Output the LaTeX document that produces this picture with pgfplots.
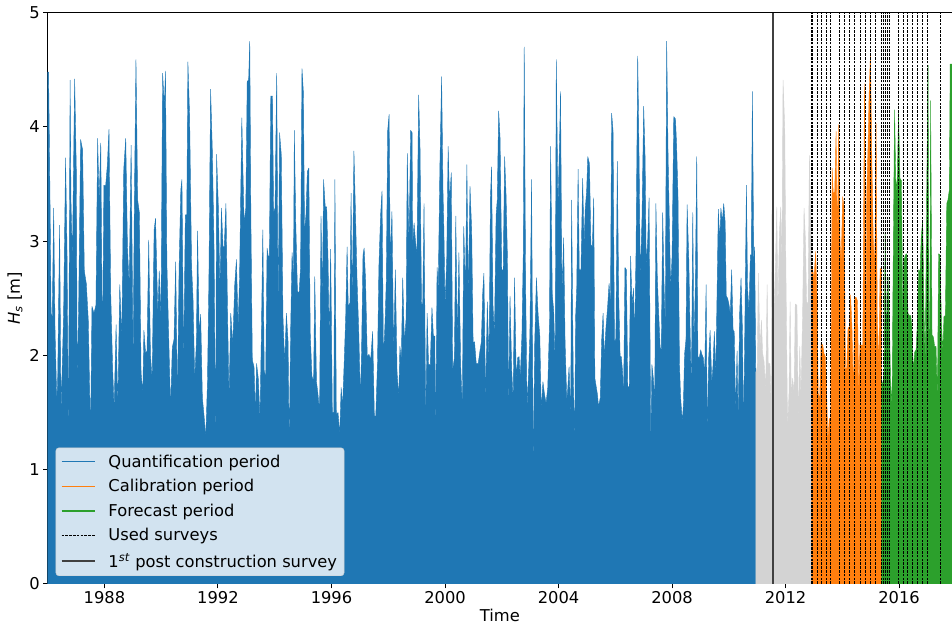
\documentclass[border=0pt]{standalone}
\usepackage{fontspec}
\setmainfont{DejaVu Sans}
\usepackage{pgfplots}
\usepackage{pgfplotstable}
\pgfplotsset{compat=1.18}
\definecolor{c1}{HTML}{1F77B4}
\definecolor{c2}{HTML}{FF7F0E}
\definecolor{c3}{HTML}{2CA02C}
\definecolor{cg}{HTML}{D3D3D3}
\newcommand{\fs}{\fontsize{16.3bp}{19.6bp}\selectfont}

\pgfplotstableread{
t h
1986.00 4.48
1986.03 4.48
1986.06 3.86
1986.09 3.15
1986.12 2.37
1986.16 2.34
1986.21 3.29
1986.26 2.20
1986.32 1.61
1986.35 1.76
1986.42 3.14
1986.47 1.51
1986.56 2.36
1986.63 3.73
1986.68 2.93
1986.73 1.28
1986.79 4.41
1986.82 3.35
1986.87 2.84
1986.95 4.42
1987.01 3.60
1987.04 1.76
1987.09 2.42
1987.16 3.89
1987.23 3.80
1987.29 2.74
1987.36 2.63
1987.43 2.31
1987.48 1.67
1987.51 1.32
1987.56 2.43
1987.63 2.37
1987.70 2.44
1987.76 3.90
1987.81 3.35
1987.87 3.86
1987.93 2.02
1987.98 3.49
1988.04 3.48
1988.10 3.66
1988.16 3.98
1988.22 2.55
1988.29 1.87
1988.34 1.54
1988.41 2.27
1988.47 1.54
1988.54 2.62
1988.61 2.15
1988.68 3.63
1988.75 3.90
1988.81 2.95
1988.87 2.62
1988.94 3.84
1989.01 1.96
1989.05 3.25
1989.11 4.59
1989.17 3.36
1989.23 3.25
1989.29 1.85
1989.35 1.67
1989.39 2.22
1989.45 2.02
1989.50 2.04
1989.56 3.01
1989.62 2.01
1989.68 1.79
1989.75 3.10
1989.80 3.20
1989.88 2.36
1989.93 2.74
1989.99 2.31
1990.05 4.47
1990.11 4.18
1990.15 4.49
1990.20 2.80
1990.26 2.20
1990.33 1.53
1990.39 2.07
1990.45 2.14
1990.51 2.82
1990.57 1.58
1990.63 2.77
1990.69 3.45
1990.73 3.54
1990.79 1.93
1990.85 3.23
1990.90 3.23
1990.94 4.57
1991.00 4.10
1991.07 2.78
1991.12 2.50
1991.18 1.79
1991.24 2.12
1991.28 3.09
1991.34 2.18
1991.39 2.36
1991.45 1.63
1991.51 1.47
1991.57 1.28
1991.63 1.77
1991.68 2.66
1991.74 4.33
1991.80 3.80
1991.86 2.97
1991.92 1.20
1991.95 3.76
1992.01 3.33
1992.07 2.58
1992.12 3.29
1992.18 2.95
1992.22 2.95
1992.28 3.33
1992.34 2.33
1992.39 1.63
1992.45 2.37
1992.52 2.09
1992.59 2.62
1992.65 2.84
1992.71 2.25
1992.76 2.68
1992.84 4.08
1992.88 3.61
1992.92 3.16
1992.98 3.29
1993.03 4.40
1993.08 4.41
1993.12 4.75
1993.16 3.19
1993.21 1.96
1993.27 1.90
1993.32 1.48
1993.36 1.93
1993.42 1.80
1993.48 1.45
1993.53 2.20
1993.58 3.10
1993.63 1.87
1993.68 1.80
1993.73 2.94
1993.77 2.87
1993.81 2.87
1993.86 4.27
1993.92 4.27
1993.96 3.25
1994.01 3.29
1994.07 4.47
1994.12 2.34
1994.17 3.95
1994.23 3.76
1994.29 2.34
1994.35 1.93
1994.41 2.37
1994.47 2.12
1994.51 1.20
1994.56 2.22
1994.61 2.90
1994.66 2.69
1994.69 3.97
1994.74 3.17
1994.80 2.56
1994.86 2.55
1994.91 2.77
1994.96 4.51
1995.01 4.30
1995.05 3.09
1995.10 3.23
1995.15 3.61
1995.20 3.64
1995.25 2.20
1995.31 1.82
1995.37 1.77
1995.41 2.69
1995.47 1.77
1995.52 1.67
1995.58 1.50
1995.63 3.22
1995.68 2.52
1995.72 3.54
1995.78 3.30
1995.83 3.30
1995.88 2.82
1995.92 2.12
1995.97 2.93
1996.03 1.50
1996.08 1.50
1996.12 3.54
1996.17 1.48
1996.23 1.50
1996.29 1.31
1996.34 1.72
1996.39 1.55
1996.45 1.96
1996.50 2.34
1996.55 2.95
1996.59 2.43
1996.65 2.46
1996.69 3.42
1996.73 2.42
1996.79 3.79
1996.85 3.20
1996.90 2.66
1996.96 2.21
1997.02 1.61
1997.06 2.05
1997.11 2.88
1997.15 2.94
1997.20 2.66
1997.26 1.99
1997.32 2.01
1997.38 1.96
1997.45 2.21
1997.51 1.47
1997.56 1.47
1997.62 1.93
1997.67 2.78
1997.73 3.23
1997.78 3.44
1997.83 1.96
1997.89 2.31
1997.93 2.65
1997.98 3.97
1998.03 4.11
1998.07 2.81
1998.13 3.26
1998.19 2.01
1998.25 2.75
1998.31 1.85
1998.37 1.64
1998.41 2.08
1998.46 1.96
1998.51 2.68
1998.57 2.11
1998.63 2.33
1998.67 3.77
1998.73 2.97
1998.79 3.97
1998.84 3.95
1998.86 2.97
1998.91 3.16
1998.95 3.03
1999.01 2.87
1999.07 4.28
1999.12 3.81
1999.17 2.47
1999.21 2.40
1999.26 3.33
1999.32 1.38
1999.37 2.37
1999.42 1.92
1999.48 1.92
1999.54 2.42
1999.59 2.17
1999.64 2.17
1999.67 1.32
1999.72 2.77
1999.76 2.58
1999.82 3.67
1999.88 4.44
1999.93 3.42
1999.96 3.10
2000.00 2.44
2000.06 2.85
2000.11 3.83
2000.16 3.35
2000.22 3.60
2000.27 1.87
2000.33 1.98
2000.38 3.22
2000.43 2.12
2000.49 2.90
2000.55 1.92
2000.61 1.55
2000.66 3.13
2000.72 2.56
2000.77 3.67
2000.82 2.52
2000.88 3.48
2000.94 3.09
2000.99 2.11
2001.04 2.12
2001.10 1.93
2001.17 1.93
2001.23 2.04
2001.28 2.12
2001.33 2.56
2001.37 2.72
2001.43 1.61
2001.49 2.47
2001.55 1.95
2001.60 3.38
2001.64 3.65
2001.69 2.44
2001.74 2.18
2001.80 3.23
2001.84 3.36
2001.89 4.14
2001.94 3.90
2002.00 2.75
2002.05 2.75
2002.10 3.74
2002.15 3.41
2002.20 2.85
2002.24 1.54
2002.29 2.52
2002.35 1.87
2002.40 1.61
2002.45 2.68
2002.51 1.79
2002.56 1.98
2002.61 1.99
2002.65 1.80
2002.71 2.18
2002.76 2.94
2002.79 4.70
2002.84 2.63
2002.89 1.55
2002.94 1.82
2002.99 2.18
2003.05 3.54
2003.11 1.00
2003.16 2.11
2003.22 2.68
2003.28 2.36
2003.34 2.17
2003.39 1.53
2003.45 1.77
2003.50 1.67
2003.56 1.58
2003.62 1.72
2003.68 2.27
2003.72 3.83
2003.78 2.53
2003.83 2.39
2003.88 1.92
2003.92 4.59
2003.98 3.29
2004.04 3.93
2004.07 4.31
2004.12 2.55
2004.18 3.03
2004.23 2.12
2004.29 1.61
2004.32 1.69
2004.37 1.90
2004.43 1.47
2004.46 3.36
2004.52 1.80
2004.57 1.26
2004.60 2.33
2004.64 2.58
2004.69 3.63
2004.73 2.75
2004.79 2.75
2004.85 3.55
2004.90 2.98
2004.94 3.28
2004.99 3.44
2005.03 3.74
2005.09 3.68
2005.14 2.97
2005.19 2.95
2005.24 3.38
2005.28 1.80
2005.37 1.66
2005.41 1.55
2005.47 1.63
2005.52 2.14
2005.57 2.37
2005.61 1.98
2005.67 2.24
2005.73 2.43
2005.78 2.63
2005.83 2.47
2005.87 4.12
2005.92 3.97
2005.97 2.11
2006.02 2.15
2006.07 3.70
2006.12 2.52
2006.17 1.99
2006.21 1.99
2006.26 1.85
2006.29 1.58
2006.34 2.77
2006.39 2.75
2006.44 1.73
2006.49 1.72
2006.54 2.87
2006.59 2.44
2006.64 2.59
2006.68 2.15
2006.73 2.91
2006.79 4.62
2006.84 3.68
2006.88 2.68
2006.94 3.20
2007.00 4.18
2007.05 3.73
2007.09 2.78
2007.14 3.00
2007.19 3.38
2007.25 1.20
2007.29 1.92
2007.34 1.80
2007.39 1.61
2007.43 3.33
2007.48 2.69
2007.53 2.36
2007.58 2.07
2007.62 2.05
2007.67 3.25
2007.72 2.59
2007.76 2.27
2007.81 4.75
2007.86 3.74
2007.90 3.23
2007.95 2.58
2008.00 2.87
2008.06 4.09
2008.12 4.07
2008.16 3.84
2008.21 3.38
2008.26 1.93
2008.30 1.64
2008.36 1.42
2008.40 1.57
2008.44 2.01
2008.49 2.14
2008.53 3.32
2008.59 2.84
2008.63 2.28
2008.68 1.70
2008.73 3.25
2008.77 2.08
2008.82 2.63
2008.87 3.74
2008.91 1.99
2008.96 1.98
2009.01 2.05
2009.05 2.01
2009.10 1.98
2009.15 1.83
2009.20 2.62
2009.24 1.31
2009.29 1.98
2009.34 2.22
2009.40 1.76
2009.44 1.90
2009.49 2.21
2009.54 1.82
2009.58 2.46
2009.63 3.28
2009.68 3.00
2009.72 3.29
2009.77 3.17
2009.82 3.33
2009.87 3.17
2009.91 2.52
2009.96 2.50
2010.01 2.44
2010.05 2.36
2010.10 2.75
2010.15 2.22
2010.19 2.21
2010.24 1.51
2010.29 2.04
2010.33 1.42
2010.38 2.36
2010.43 2.68
2010.48 2.22
2010.52 1.32
2010.57 2.39
2010.62 3.49
2010.66 2.59
2010.71 2.39
2010.76 2.88
2010.79 2.88
2010.83 4.31
2010.88 2.81
2010.91 2.95
2010.95 1.85
}\quant

\pgfplotstableread{
t h
2010.95 1.85
2010.96 1.86
2011.00 1.90
2011.04 2.72
2011.10 2.08
2011.15 2.31
2011.19 2.02
2011.24 1.95
2011.30 1.70
2011.35 2.62
2011.39 1.93
2011.45 1.93
2011.49 1.55
2011.52 3.27
2011.59 2.38
2011.64 2.76
2011.69 3.30
2011.73 2.38
2011.78 3.07
2011.83 3.30
2011.87 2.76
2011.91 4.41
2011.97 4.00
2012.01 2.78
2012.07 1.36
2012.12 1.67
2012.16 2.47
2012.20 1.65
2012.25 1.80
2012.30 1.67
2012.34 2.45
2012.40 2.44
2012.45 1.42
2012.50 2.08
2012.54 1.64
2012.60 2.37
2012.65 3.29
2012.70 3.01
2012.74 2.47
2012.79 2.45
2012.84 3.75
2012.88 3.29
2012.92 2.78
}\gap

\pgfplotstableread{
t h
2012.92 2.78
2012.94 2.78
2013.00 2.67
2013.06 2.91
2013.11 2.48
2013.15 1.67
2013.20 1.62
2013.25 2.11
2013.31 2.09
2013.35 2.02
2013.40 1.99
2013.45 1.64
2013.49 1.26
2013.54 1.45
2013.59 1.43
2013.64 3.64
2013.68 3.42
2013.73 3.43
2013.78 3.96
2013.82 2.97
2013.87 4.02
2013.92 2.98
2013.96 2.83
2014.01 3.39
2014.06 3.30
2014.11 1.89
2014.15 1.87
2014.20 2.24
2014.25 2.25
2014.29 2.53
2014.34 2.24
2014.39 1.64
2014.43 2.51
2014.48 2.51
2014.53 2.48
2014.58 1.67
2014.62 2.09
2014.67 2.09
2014.72 2.09
2014.78 4.38
2014.83 2.08
2014.86 3.42
2014.90 3.78
2014.94 4.26
2014.99 4.64
2015.04 3.71
2015.09 3.01
2015.14 2.76
2015.19 4.03
2015.23 2.35
2015.28 1.89
2015.33 2.76
2015.38 2.76
}\calib

\pgfplotstableread{
t h
2015.38 1.80
2015.42 1.73
2015.47 1.84
2015.51 3.08
2015.56 2.15
2015.61 2.69
2015.66 2.29
2015.70 1.75
2015.75 1.57
2015.80 3.07
2015.84 4.15
2015.89 3.42
2015.94 3.58
2015.98 4.13
2016.03 3.55
2016.08 3.53
2016.13 2.34
2016.17 2.83
2016.22 2.88
2016.27 2.89
2016.31 2.37
2016.36 2.35
2016.41 2.35
2016.45 2.25
2016.50 1.87
2016.55 2.03
2016.60 2.05
2016.64 2.27
2016.69 2.75
2016.74 2.73
2016.78 3.04
2016.83 3.18
2016.88 2.37
2016.92 1.93
2016.97 3.37
2017.02 4.54
2017.07 1.23
2017.11 4.23
2017.16 2.18
2017.21 2.16
2017.25 2.08
2017.30 2.08
2017.35 1.61
2017.39 2.89
2017.44 2.88
2017.49 2.31
2017.54 2.02
2017.58 2.34
2017.63 2.35
2017.68 3.33
2017.72 3.36
2017.77 3.45
2017.80 4.55
2017.87 4.55
}\fore

\begin{document}
\begin{tikzpicture}[font=\fs]
\begin{axis}[
  scale only axis, width=904.3bp, height=571.3bp,
  xmin=1986, xmax=2017.864, ymin=0, ymax=5,
  enlargelimits=false,
  axis x line=box, axis y line=left,
  axis line style={-, line width=1bp, black},
  xtick={1988,1992,1996,2000,2004,2008,2012,2016},
  xticklabels={1988,1992,1996,2000,2004,2008,2012,2016},
  ytick={0,1,2,3,4,5}, yticklabels={0,1,2,3,4,5},
  xtick pos=bottom, ytick pos=left,
  tick align=outside, major tick length=4.4bp,
  tick style={line width=1bp, black},
  /pgf/number format/assume math mode=true,
  tick label style={font=\fs},
  xticklabel style={yshift=1bp},
  xlabel={Time}, ylabel={\textit{H}\textsubscript{\textit{s}} [m]},
  label style={font=\fs},
  xlabel style={inner sep=0pt, yshift=-2.2bp},
  legend style={at={(0,0)}, anchor=south west, xshift=8bp, yshift=8bp,
    draw=black!20, fill=white, fill opacity=0.8, text opacity=1,
    rounded corners=3bp, font=\fs, row sep=6.7bp, inner xsep=5bp, inner ysep=5bp},
  legend cell align=left,
  legend image code/.code={\draw[#1] (0bp,0bp) -- (33bp,0bp); \path (44bp,0bp);},
]
\addplot[forget plot, draw=c1, fill=c1, line width=0.4bp, line join=round] table[x=t, y=h] {\quant} \closedcycle;
\addplot[forget plot, draw=cg, fill=cg, line width=0.4bp, line join=round] table[x=t, y=h] {\gap} \closedcycle;
\addplot[forget plot, draw=c2, fill=c2, line width=0.4bp, line join=round] table[x=t, y=h] {\calib} \closedcycle;
\addplot[forget plot, draw=c3, fill=c3, line width=0.4bp, line join=round] table[x=t, y=h] {\fore} \closedcycle;
\addplot[forget plot, ycomb, mark=none, black, line width=0.8bp, dash pattern=on 2.5bp off 1.3bp] coordinates {
(2012.896,5) (2012.941,5) (2013.132,5) (2013.273,5) (2013.449,5) (2013.590,5)
(2013.882,5) (2014.069,5) (2014.245,5) (2014.411,5) (2014.622,5) (2014.798,5)
(2014.975,5) (2015.151,5) (2015.387,5) (2015.443,5) (2015.514,5) (2015.584,5)
(2015.655,5) (2015.972,5) (2016.148,5) (2016.303,5) (2016.479,5) (2016.641,5)
(2016.817,5) (2017.008,5) (2017.441,5)};
\addplot[forget plot, black!75, line width=1.6bp, mark=none] coordinates {(2011.546,0) (2011.546,5)};
\addlegendimage{c1, line width=1.3bp}
\addlegendentry{Quantification period}
\addlegendimage{c2, line width=1.3bp}
\addlegendentry{Calibration period}
\addlegendimage{c3, line width=1.3bp}
\addlegendentry{Forecast period}
\addlegendimage{black, line width=0.8bp, dash pattern=on 2.5bp off 1.3bp}
\addlegendentry{Used surveys}
\addlegendimage{black!75, line width=1.6bp}
\addlegendentry{1\textsuperscript{\textit{st}} post construction survey}
\end{axis}
\pgfresetboundingbox
\path[use as bounding box] ([xshift=-47.7bp, yshift=-41bp]current axis.south west) rectangle ([yshift=12.7bp]current axis.north east);
\end{tikzpicture}
\end{document}
